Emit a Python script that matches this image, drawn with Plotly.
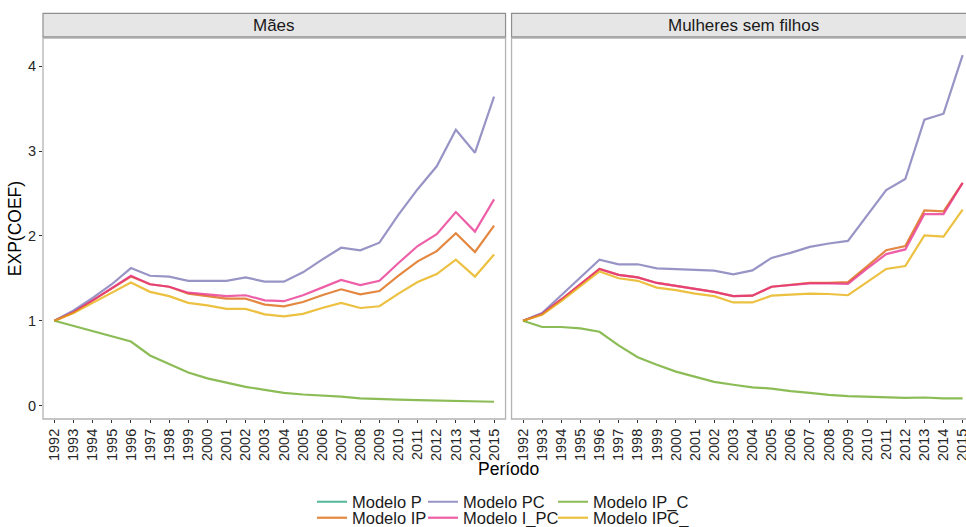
import plotly.graph_objects as go

years = list(range(1992, 2016))
year_labels = [str(y) for y in years]
panels = ["Mães", "Mulheres sem filhos"]
series_names = ["Modelo P", "Modelo IP", "Modelo PC", "Modelo I_PC", "Modelo IP_C", "Modelo IPC_"]

# Mães  (Modelo P shows no visible line in the chart)
p_m = [None] * len(years)
ip_m = [1.00, 1.10, 1.24, 1.38, 1.52, 1.43, 1.40, 1.32, 1.29, 1.26, 1.26, 1.19, 1.17, 1.22, 1.30, 1.37, 1.31, 1.35, 1.53, 1.70, 1.82, 2.03, 1.81, 2.12]
pc_m = [1.00, 1.12, 1.27, 1.43, 1.62, 1.53, 1.52, 1.47, 1.47, 1.47, 1.51, 1.46, 1.46, 1.57, 1.72, 1.86, 1.83, 1.92, 2.25, 2.55, 2.82, 3.25, 2.98, 3.64]
i_pc_m = [1.00, 1.10, 1.24, 1.38, 1.53, 1.43, 1.40, 1.33, 1.31, 1.29, 1.30, 1.24, 1.23, 1.30, 1.39, 1.48, 1.42, 1.47, 1.68, 1.88, 2.02, 2.28, 2.05, 2.43]
ip_c_m = [1.00, 0.94, 0.875, 0.815, 0.755, 0.59, 0.49, 0.39, 0.32, 0.27, 0.22, 0.185, 0.15, 0.13, 0.12, 0.105, 0.085, 0.075, 0.07, 0.065, 0.06, 0.055, 0.045, 0.045]
ipc_m = [1.00, 1.09, 1.21, 1.33, 1.45, 1.34, 1.29, 1.21, 1.18, 1.14, 1.14, 1.075, 1.05, 1.08, 1.15, 1.21, 1.15, 1.17, 1.32, 1.455, 1.55, 1.72, 1.52, 1.78]

# Mulheres sem filhos
p_w = [None] * len(years)
ip_w = [1.00, 1.08, 1.25, 1.43, 1.61, 1.54, 1.51, 1.445, 1.41, 1.38, 1.34, 1.29, 1.295, 1.40, 1.42, 1.445, 1.445, 1.455, 1.64, 1.83, 1.88, 2.30, 2.29, 2.625]
pc_w = [1.00, 1.09, 1.30, 1.51, 1.72, 1.665, 1.665, 1.617, 1.61, 1.60, 1.59, 1.546, 1.593, 1.74, 1.80, 1.87, 1.91, 1.94, 2.24, 2.54, 2.67, 3.37, 3.44, 4.13]
i_pc_w = [1.00, 1.08, 1.25, 1.43, 1.61, 1.54, 1.51, 1.445, 1.41, 1.38, 1.34, 1.29, 1.295, 1.40, 1.42, 1.44, 1.44, 1.435, 1.615, 1.785, 1.84, 2.257, 2.257, 2.625]
ip_c_w = [1.00, 0.926, 0.926, 0.91, 0.87, 0.71, 0.57, 0.48, 0.40, 0.34, 0.28, 0.245, 0.215, 0.20, 0.17, 0.15, 0.125, 0.11, 0.105, 0.10, 0.09, 0.095, 0.085, 0.085]
ipc_w = [1.00, 1.07, 1.23, 1.40, 1.58, 1.50, 1.47, 1.39, 1.36, 1.32, 1.29, 1.215, 1.215, 1.295, 1.31, 1.32, 1.315, 1.30, 1.455, 1.61, 1.645, 2.005, 1.99, 2.31]

y_ticks = [0, 1, 2, 3, 4]

colors = ["rgba(27,158,119,0.75)", "rgba(217,95,2,0.75)", "rgba(117,112,179,0.75)",
          "rgba(231,41,138,0.75)", "rgba(102,166,30,0.75)", "rgba(230,171,2,0.75)"]

data_m = [p_m, ip_m, pc_m, i_pc_m, ip_c_m, ipc_m]
data_w = [p_w, ip_w, pc_w, i_pc_w, ip_c_w, ipc_w]

W, H = 966, 527
FONT = "Liberation Sans, Arial, sans-serif"

# pixel layout
pl, pr_left, pl2, pr2 = 43.3, 505.7, 511.7, 974.7
ptop, pbot = 38.0, 419.0
ml, mt, mb = pl, ptop, H - pbot
paper_w = W - ml
paper_h = pbot - ptop

def px2paper_x(px):
    return (px - ml) / paper_w

fig = go.Figure()

legend_names = ["legend", "legend2", "legend3", "legend4", "legend5", "legend6"]
for i, name in enumerate(series_names):
    fig.add_trace(go.Scatter(
        x=years, y=data_m[i], mode="lines", name=name,
        line=dict(color=colors[i], width=2.2),
        xaxis="x", yaxis="y", legend=legend_names[i], showlegend=True))
for i, name in enumerate(series_names):
    fig.add_trace(go.Scatter(
        x=years, y=data_w[i], mode="lines", name=name,
        line=dict(color=colors[i], width=2.2),
        xaxis="x2", yaxis="y2", showlegend=False))

unit = (pr_left - pl) / 24.2
x2_right = 1992 - 0.6 + (W - pl2) / unit

yr = [-0.1585, 4.332]
tickfont = dict(family=FONT, size=14.5, color="#262626")
xcommon = dict(tickmode="array", tickvals=years, ticktext=year_labels, tickangle=-90,
               ticks="outside", ticklen=3, tickcolor="#333333", tickwidth=1,
               showgrid=False, zeroline=False, showline=False, tickfont=tickfont,
               ticklabeloverflow="allow")
fig.update_layout(
    xaxis=dict(domain=[0, px2paper_x(pr_left)], range=[1991.4, 2015.6], anchor="y", **xcommon),
    xaxis2=dict(domain=[px2paper_x(pl2), 1.0], range=[1991.4, x2_right], anchor="y2", **xcommon),
    yaxis=dict(domain=[0, 1], range=yr, anchor="x", tickvals=y_ticks, ticktext=[str(v) for v in y_ticks],
               ticks="outside", ticklen=3, tickcolor="#333333", showgrid=False, zeroline=False,
               showline=False, tickfont=tickfont),
    yaxis2=dict(domain=[0, 1], range=yr, anchor="x2", matches="y", showticklabels=False,
                ticks="", showgrid=False, zeroline=False, showline=False),
)

shapes = []
# panel borders
shapes.append(dict(type="rect", xref="x domain", yref="y domain", x0=0, x1=1, y0=0, y1=1,
                   line=dict(color="#b3b3b3", width=1.3), fillcolor="rgba(0,0,0,0)", layer="above"))
x2w = W - pl2
shapes.append(dict(type="rect", xref="x2 domain", yref="y2 domain", x0=0, x1=(pr2 - pl2) / x2w, y0=0, y1=1,
                   line=dict(color="#b3b3b3", width=1.3), fillcolor="rgba(0,0,0,0)", layer="above"))
# strips
s_top = 1 + (ptop - 13.3) / paper_h
s_bot = 1 + (ptop - 36.8) / paper_h
shapes.append(dict(type="rect", xref="x domain", yref="paper", x0=0, x1=1, y0=s_bot, y1=s_top,
                   line=dict(color="#8f8f8f", width=1.2), fillcolor="#e6e6e6"))
shapes.append(dict(type="rect", xref="x2 domain", yref="paper", x0=0, x1=(pr2 - pl2) / x2w, y0=s_bot, y1=s_top,
                   line=dict(color="#8f8f8f", width=1.2), fillcolor="#e6e6e6"))

annotations = [
    dict(text=panels[0], xref="paper", yref="paper", x=px2paper_x((pl + pr_left) / 2), y=(s_top + s_bot) / 2,
         showarrow=False, xanchor="center", yanchor="middle", font=dict(family=FONT, size=17, color="#1a1a1a")),
    dict(text=panels[1], xref="paper", yref="paper", x=px2paper_x((pl2 + pr2) / 2), y=(s_top + s_bot) / 2,
         showarrow=False, xanchor="center", yanchor="middle", font=dict(family=FONT, size=17, color="#1a1a1a")),
    dict(text="EXP(COEF)", xref="paper", yref="paper", x=px2paper_x(15), y=0.5, textangle=-90,
         showarrow=False, xanchor="center", yanchor="middle", font=dict(family=FONT, size=17.5, color="#000000")),
    dict(text="Período", xref="paper", yref="paper", x=px2paper_x(508.5), y=-(469 - pbot) / paper_h,
         showarrow=False, xanchor="center", yanchor="middle", font=dict(family=FONT, size=17.5, color="#000000")),
]

# legends: 3 columns x 2 rows (column-wise order like the reference)
leg_pos = [(312, 502), (312, 518), (423, 502), (423, 518), (553, 502), (553, 518)]
legend_layout = {}
for name, (lx, ly) in zip(legend_names, leg_pos):
    legend_layout[name] = dict(xref="container", yref="container", x=lx / W, y=1 - ly / H,
                               xanchor="left", yanchor="middle", bgcolor="rgba(0,0,0,0)",
                               borderwidth=0, font=dict(family=FONT, size=16.5, color="#1a1a1a"),
                               itemwidth=30)

fig.update_layout(
    width=W, height=H,
    margin=dict(l=ml, r=0, t=mt, b=mb, autoexpand=False),
    plot_bgcolor="white", paper_bgcolor="white",
    shapes=shapes, annotations=annotations,
    font=dict(family=FONT),
    **legend_layout,
)

fig.write_html("out.html")
